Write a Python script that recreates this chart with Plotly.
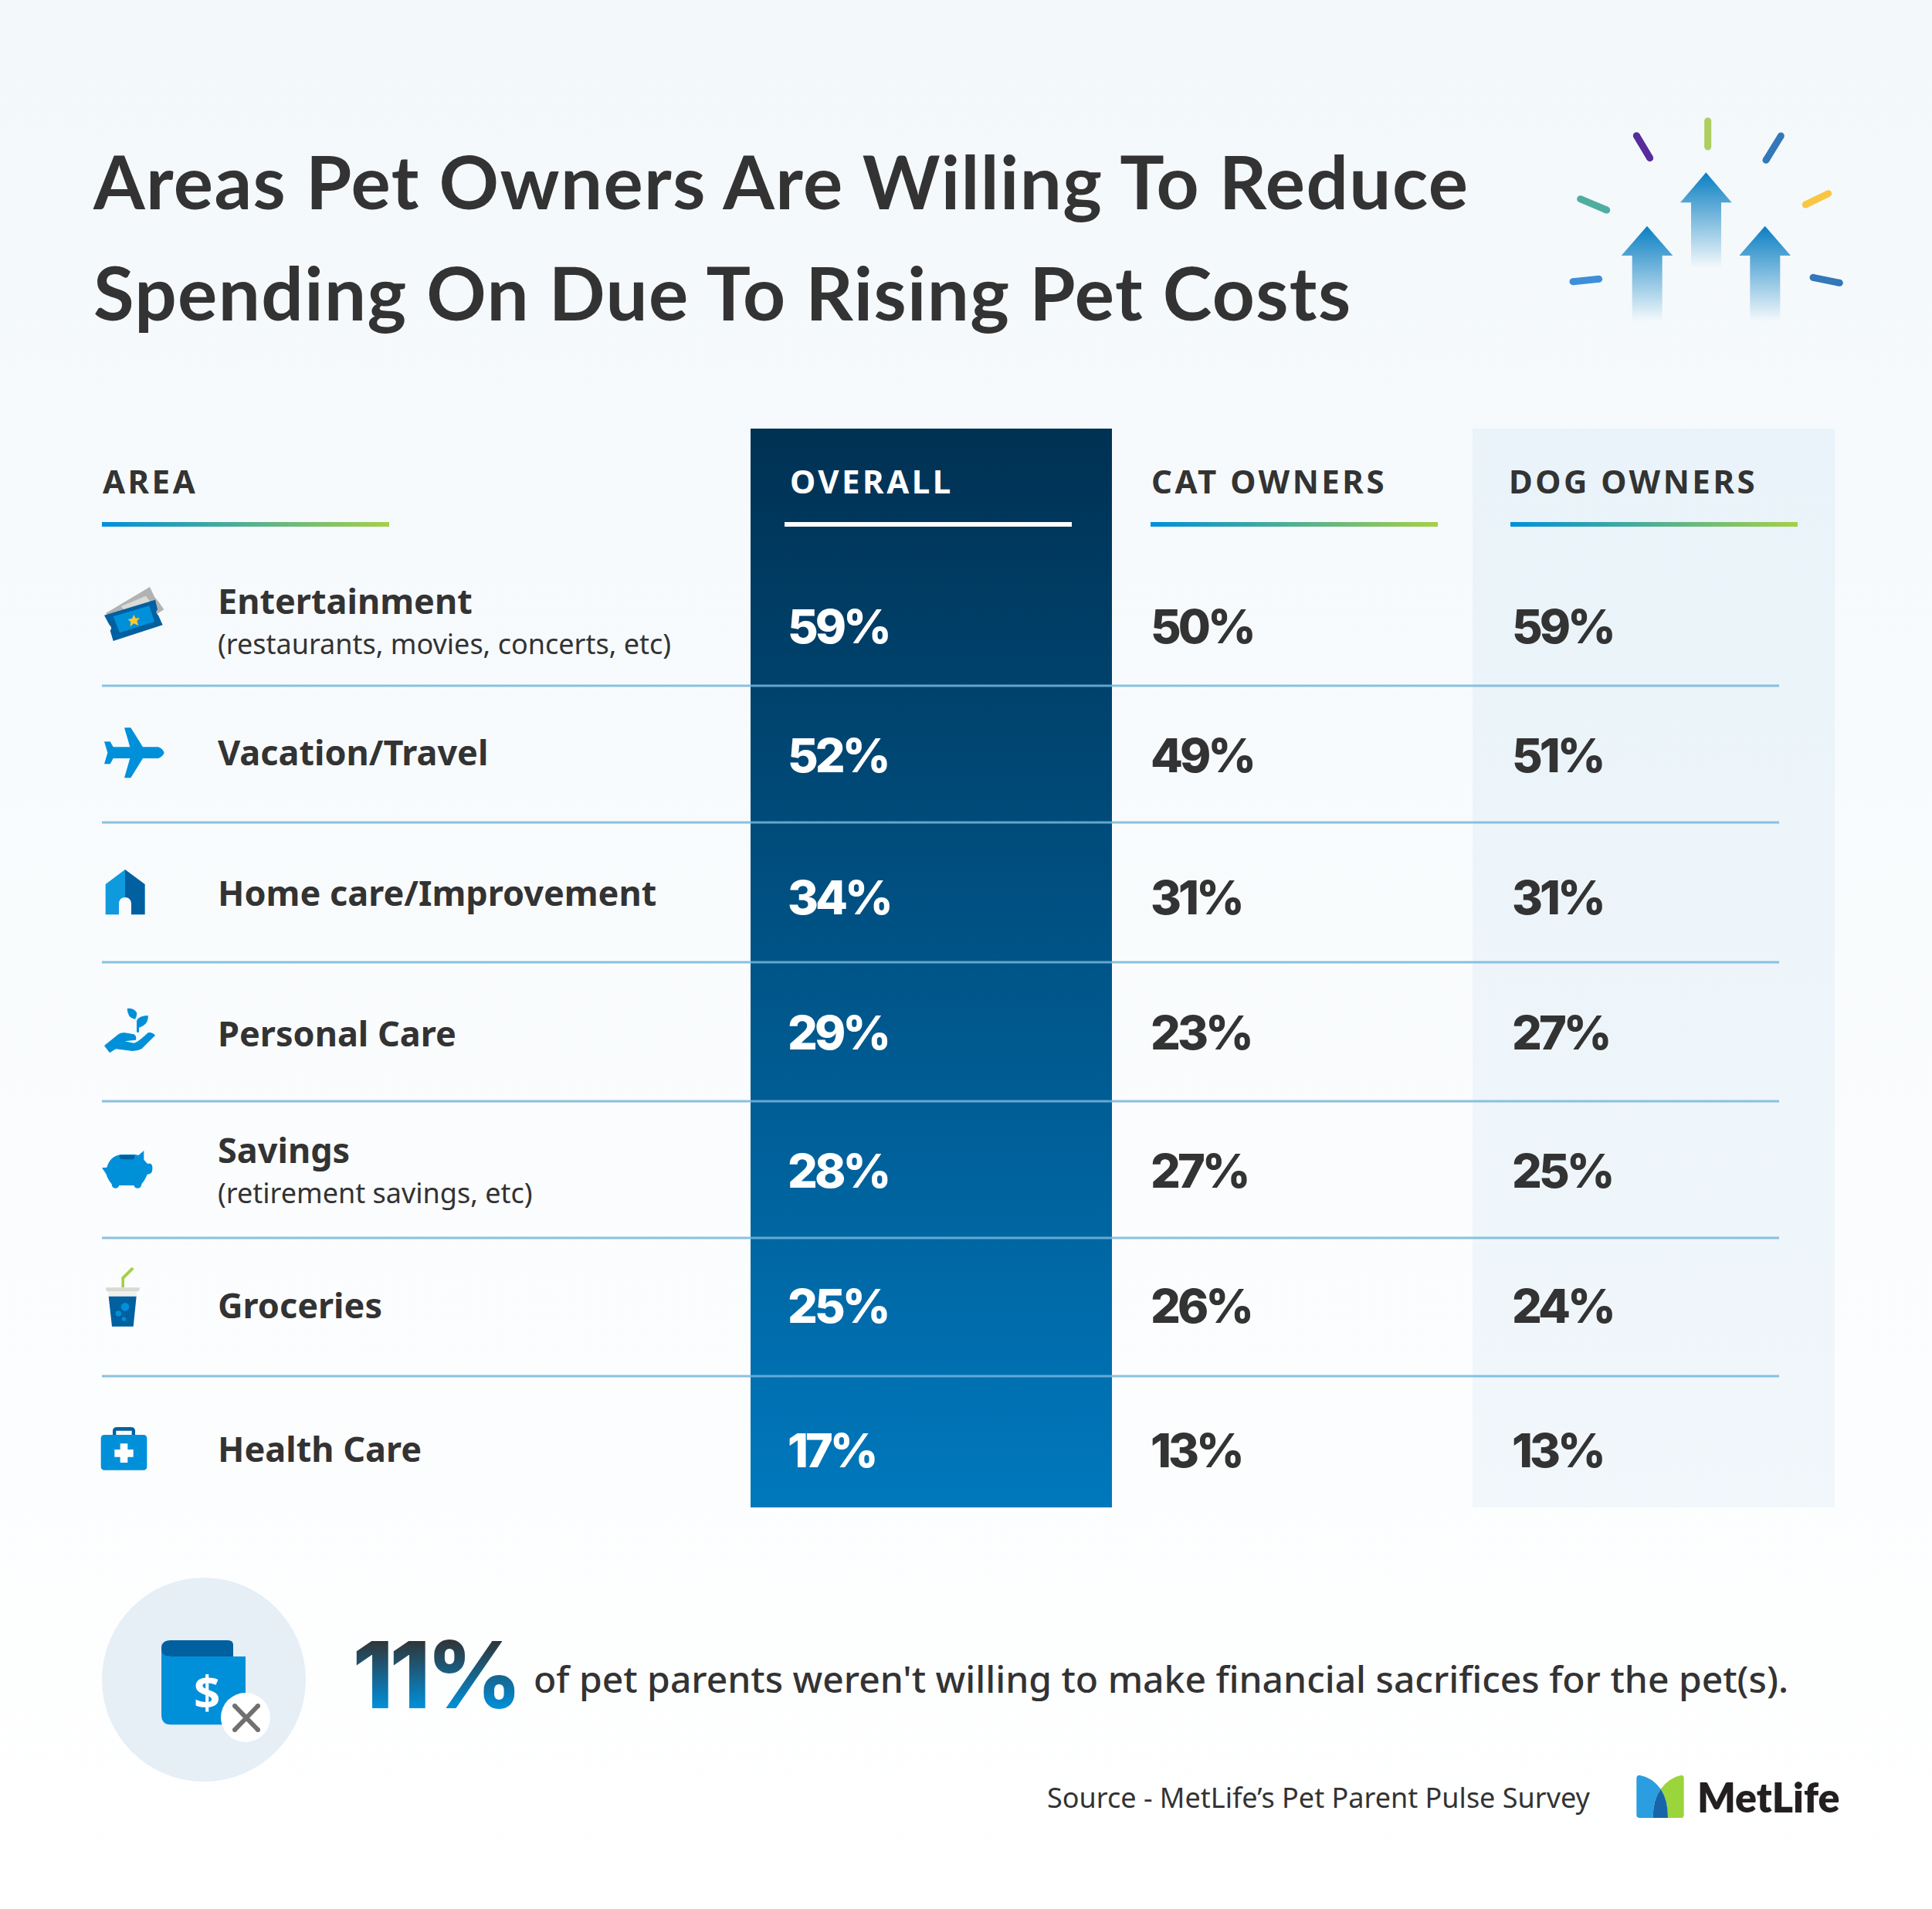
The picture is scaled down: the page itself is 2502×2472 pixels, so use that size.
import json
import re
import plotly.graph_objects as go

# ---- data
HEADERS = ["AREA", "OVERALL", "CAT OWNERS", "DOG OWNERS"]
AREAS = ["Entertainment", "Vacation/Travel", "Home care/Improvement", "Personal Care",
         "Savings", "Groceries", "Health Care"]
AREA_NOTES = ["(restaurants, movies, concerts, etc)", "(retirement savings, etc)"]
OVERALL = [59, 52, 34, 29, 28, 25, 17]
CAT_OWNERS = [50, 49, 31, 23, 27, 26, 13]
DOG_OWNERS = [59, 51, 31, 27, 25, 24, 13]
TITLE_LINES = ["Areas Pet Owners Are Willing To Reduce", "Spending On Due To Rising Pet Costs"]
CALLOUT_VALUE = 11
CALLOUT_TEXT = "of pet parents weren't willing to make financial sacrifices for the pet(s)."
SOURCE_TEXT = "Source - MetLife’s Pet Parent Pulse Survey"
BRAND = "MetLife"

# ---- layout of the page, in pixels
W, H = 2502, 2472
ROW_LINES = [887, 1064, 1245, 1425, 1602, 1781]
VALUE_Y = [818, 985, 1169, 1344, 1523, 1698, 1885]
LABEL_Y = [784, 980, 1162, 1344, 1495, 1696, 1882]
NOTE_Y = [838, 1549]
COL_X = {"overall": 1020, "cat": 1490, "dog": 1958}
DARK = "#333333"
BLUE = "#0090da"
NAVY = "#0060a0"
SANS = "Noto Sans"
NUM = "Inter"

fig = go.Figure()
shapes = []


def text_trace(x, y, text, size, color=DARK, weight=400, family=SANS):
    fig.add_trace(go.Scatter(
        x=x, y=y, text=text, mode="text", textposition="middle right",
        textfont=dict(family=family, size=size, color=color, weight=weight),
        hoverinfo="skip", showlegend=False, cliponaxis=False))


def grad_rect(x0, y0, x1, y1, c0, c1, kind="vertical"):
    grad_poly([x0, x1, x1, x0, x0], [y0, y0, y1, y1, y0], c0, c1, kind)


def grad_poly(xs, ys, c0, c1, kind="vertical"):
    # vertical fillgradient runs from the bottom of the page up, so flip it
    scale = [[0, c1], [1, c0]] if kind == "vertical" else [[0, c0], [1, c1]]
    fig.add_trace(go.Scatter(
        x=xs, y=ys, mode="lines", fill="toself", line=dict(width=0),
        fillgradient=dict(type=kind, colorscale=scale),
        hoverinfo="skip", showlegend=False))


def at(ox, oy, path, scale=3.0):
    # paths are written in zoomed crop pixels, this moves them on the page
    nums = iter(range(10 ** 6))
    def fix(m):
        v = float(m.group())
        return f"{(ox if next(nums) % 2 == 0 else oy) + v / scale:.2f}"
    return re.sub(r"-?\d+\.?\d*", fix, path)


def icon(ox, oy, path, color):
    shapes.append(dict(type="path", path=at(ox, oy, path), fillcolor=color,
                       line=dict(width=0), layer="above"))


def dot(cx, cy, r, color):
    shapes.append(dict(type="circle", x0=cx - r, x1=cx + r, y0=cy - r, y1=cy + r,
                       fillcolor=color, line=dict(width=0), layer="above"))


def capsule(x0, y0, x1, y1, width, color):
    shapes.append(dict(type="line", x0=x0, y0=y0, x1=x1, y1=y1,
                       line=dict(color=color, width=width), layer="above"))
    dot(x0, y0, width / 2, color)
    dot(x1, y1, width / 2, color)


# ---- backgrounds
grad_rect(0, 0, W, H, "#f3f8fb", "#ffffff")
grad_rect(1907, 555, 2376, 1952, "#e9f3f9", "#f1f7fb")
grad_rect(972, 555, 1440, 1952, "#003153", "#0078bd")

# ---- header rules
for x0 in [132, 1490, 1956]:
    grad_rect(x0, 676, x0 + 372, 682, "#0090da", "#a5d049", "horizontal")
shapes.append(dict(type="rect", x0=1016, x1=1388, y0=676, y1=682, fillcolor="white",
                   line=dict(width=0), layer="above"))

# ---- row rules
for y in ROW_LINES:
    shapes.append(dict(type="line", x0=132, x1=2304, y0=y + 1, y1=y + 1, layer="above",
                       line=dict(color="rgba(118,182,218,0.85)", width=3)))

# ---- title and header text
text_trace([121, 121], [247, 391], TITLE_LINES, 96, weight=700, family="Lato")
text_trace([133], [628], [HEADERS[0]], 42, weight=700)
text_trace([1023], [628], [HEADERS[1]], 42, color="white", weight=700)
text_trace([1491], [628], [HEADERS[2]], 42, weight=700)
text_trace([1954], [628], [HEADERS[3]], 42, weight=700)

# ---- table text
text_trace([282] * len(AREAS), LABEL_Y, AREAS, 45, weight=700)
text_trace([282] * len(AREA_NOTES), NOTE_Y, AREA_NOTES, 36)
text_trace([COL_X["overall"]] * 7, VALUE_Y, [f"{v}%" for v in OVERALL], 61, "white", 800, NUM)
text_trace([COL_X["cat"]] * 7, VALUE_Y, [f"{v}%" for v in CAT_OWNERS], 61, DARK, 800, NUM)
text_trace([COL_X["dog"]] * 7, VALUE_Y, [f"{v}%" for v in DOG_OWNERS], 61, DARK, 800, NUM)

# ---- footer text
text_trace([691], [2180], [CALLOUT_TEXT], 48, weight=500)
text_trace([1356], [2332], [SOURCE_TEXT], 36)
text_trace([2198], [2334], [BRAND], 52, "#231f20", 800, "Lato")

# ---- burst and arrows, top right
bx, by = 1980, 130
for (a, b, c, d, col) in [(418, 137, 470, 224, "#562d9b"), (695, 80, 695, 180, "#aece62"),
                          (979, 138, 921, 232, "#3378b8"), (200, 383, 302, 426, "#4fada0"),
                          (1075, 405, 1163, 362, "#f9c642"), (171, 704, 272, 694, "#3d8fda"),
                          (1104, 688, 1207, 709, "#3378b8")]:
    capsule(bx + a / 3, by + b / 3, bx + c / 3, by + d / 3, 9, col)

for tip, top, base, bottom in [(688, 280, 397, 650), (459, 488, 603, 858), (917, 488, 603, 858)]:
    xs = [tip, tip + 100, tip + 59, tip + 59, tip - 58, tip - 58, tip - 100, tip]
    ys = [top, base, base, bottom, bottom, base, base, top]
    grad_poly([bx + v / 3 for v in xs], [by + v / 3 for v in ys], "#0a7fc2", "#f4f9fc")

# ---- row icons (crop coordinates from 3x crops)
icon(120, 750, "M 50 133 L 222 30 L 240 68 L 258 90 L 277 118 L 250 135 L 110 170 Z", "#b0b2b3")
icon(120, 750, "M 110 105 L 207 65 L 225 90 L 130 130 Z", "#dadad6")
icon(120, 750, "M 45 140 L 243 80 L 252 118 Q 240 128 255 140 L 272 178 L 80 240 L 68 200 Q 78 188 65 178 Z", "#0060a0")
icon(120, 750, "M 80 145 L 220 103 L 240 165 L 105 208 Z", BLUE)
icon(120, 750, "M 160 138 L 167 152 L 183 150 L 172 163 L 178 180 L 160 172 L 146 184 L 148 166 L 137 156 L 153 153 Z", "#fdc82f")
icon(120, 930, "M 123 37 L 148 37 L 195 112 L 255 112 Q 272 118 278 134 Q 272 150 255 156 L 195 156 L 148 232 "
               "L 123 232 L 145 156 L 80 156 L 68 178 L 45 178 L 58 134 L 45 91 L 68 91 L 80 112 L 145 112 Z", BLUE)
icon(120, 930, "M 126 588 L 50 645 L 50 763 L 102 763 L 102 720 Q 104 696 126 696 Z", "#0f9ade")
icon(120, 930, "M 126 588 L 203 645 L 203 763 L 150 763 L 150 720 Q 148 696 126 696 Z", NAVY)
icon(120, 1290, "M 134 48 Q 160 45 172 65 Q 172 80 165 90 Q 135 85 134 48 Z", BLUE)
icon(120, 1290, "M 215 75 Q 218 110 180 122 L 180 140 L 171 140 L 171 95 Q 180 75 215 75 Z", BLUE)
icon(120, 1290, "M 45 192 L 100 148 Q 110 140 125 142 L 160 148 Q 172 155 168 170 L 125 175 L 160 182 Q 175 180 215 142 "
                "Q 230 138 243 152 L 190 205 Q 175 213 155 213 L 90 205 L 66 220 Z", BLUE)
icon(120, 1290, "M 36 667 L 55 665 Q 68 620 110 615 L 165 615 L 178 618 L 199 600 L 199 635 Q 208 645 212 650 L 225 650 "
                "Q 233 655 232 668 Q 233 692 212 692 Q 205 712 190 730 Q 190 745 175 746 Q 163 746 160 735 L 103 735 "
                "Q 100 746 88 746 Q 75 746 74 730 Q 60 715 52 690 Z", BLUE)
icon(120, 1290, "M 104 617 L 163 617 Q 163 634 155 634 L 112 634 Q 104 634 104 617 Z", NAVY)
icon(120, 1630, "M 112 112 L 112 72 L 152 32 L 161 40 L 123 78 L 123 112 Z", "#a5d049")
icon(120, 1630, "M 50 112 L 184 112 L 180 126 L 54 126 Z", "#d9d9d4")
icon(120, 1630, "M 60 126 L 172 126 L 170 145 L 62 145 Z", "#efefeb")
icon(120, 1630, "M 62 146 L 170 146 L 158 263 L 75 263 Z", NAVY)
for cx, cy, r in [(126, 187, 16), (100, 213, 11), (121, 234, 8)]:
    dot(120 + cx / 3, 1630 + cy / 3, r / 3, BLUE)
icon(120, 1630, "M 78 690 L 78 668 Q 78 654 95 654 L 148 654 Q 165 654 165 668 L 165 690 L 152 690 L 152 668 L 91 668 L 91 690 Z", NAVY)
icon(120, 1630, "M 46 684 L 197 684 Q 211 684 211 698 L 211 807 Q 211 821 197 821 L 46 821 Q 32 821 32 807 L 32 698 Q 32 684 46 684 Z", BLUE)
icon(120, 1630, "M 107 718 L 136 718 L 136 741 L 158 741 L 158 770 L 136 770 L 136 792 L 107 792 L 107 770 L 85 770 L 85 741 L 107 741 Z", "white")

# ---- wallet badge
dot(264, 2175, 132, "#e6eef6")
icon(0, 0, "M 627 6372 Q 627 6435 663 6435 L 954 6435 L 954 6700 L 663 6700 Q 627 6700 627 6660 Z", BLUE)
icon(0, 0, "M 663 6372 L 885 6372 Q 906 6372 906 6390 L 906 6435 L 663 6435 Q 627 6435 627 6405 Q 627 6372 663 6372 Z", NAVY)
dot(318, 2224, 32, "white")
for a, b, c, d in [(304, 2209, 334, 2240), (334, 2209, 304, 2240)]:
    capsule(a, b, c, d, 6, "#707070")

# ---- metlife logo
icon(2100, 2280, "M 58 68 Q 58 56 70 56 Q 120 65 152 110 Q 122 150 122 222 L 70 222 Q 58 222 58 210 Z", "#2a9ee0")
icon(2100, 2280, "M 242 68 Q 242 56 232 56 Q 185 65 152 110 Q 180 150 180 222 L 232 222 Q 242 222 242 210 Z", "#9bd53c")
icon(2100, 2280, "M 152 110 Q 122 150 122 222 L 180 222 Q 180 150 152 110 Z", "#1565a8")

fig.update_layout(
    width=W, height=H, margin=dict(l=0, r=0, t=0, b=0, pad=0),
    paper_bgcolor="white", plot_bgcolor="white", showlegend=False, shapes=shapes,
    xaxis=dict(range=[0, W], visible=False, fixedrange=True),
    yaxis=dict(range=[H, 0], visible=False, fixedrange=True),
    annotations=[
        dict(x=268, y=2190, text="$", showarrow=False, font=dict(family=SANS, size=60, color="white", weight=700)),
        dict(x=563, y=2168, text=f"{CALLOUT_VALUE}%", showarrow=False,
             font=dict(family=NUM, size=120, color=BLUE, weight=800)),
    ],
)

post = """
document.body.style.margin = '0';
document.body.style.overflow = 'hidden';
var headers = %s, titles = %s, big = '%s';
document.querySelectorAll('svg text').forEach(function (t) {
  var s = t.textContent;
  if (headers.indexOf(s) >= 0) t.style.letterSpacing = '3.5px';
  if (titles.indexOf(s) >= 0) t.style.letterSpacing = '1.4px';
  if (/^\\d+%%$/.test(s) && s !== big) t.style.letterSpacing = '-4px';
  if (s === big) {
    t.style.letterSpacing = '-5px';
    var ns = 'http://www.w3.org/2000/svg', svg = t.ownerSVGElement;
    var g = document.createElementNS(ns, 'linearGradient');
    g.setAttribute('id', 'bigfill');
    g.setAttribute('x1', 0); g.setAttribute('x2', 0);
    g.setAttribute('y1', 0.2); g.setAttribute('y2', 0.8);
    [['0', '#303538'], ['1', '#0090da']].forEach(function (c) {
      var e = document.createElementNS(ns, 'stop');
      e.setAttribute('offset', c[0]); e.setAttribute('stop-color', c[1]);
      g.appendChild(e);
    });
    svg.insertBefore(g, svg.firstChild);
    t.style.fill = 'url(#bigfill)';
  }
});
""" % (json.dumps(HEADERS), json.dumps(TITLE_LINES), f"{CALLOUT_VALUE}%")

fig.write_html("out.html", post_script=post, config=dict(displayModeBar=False))
